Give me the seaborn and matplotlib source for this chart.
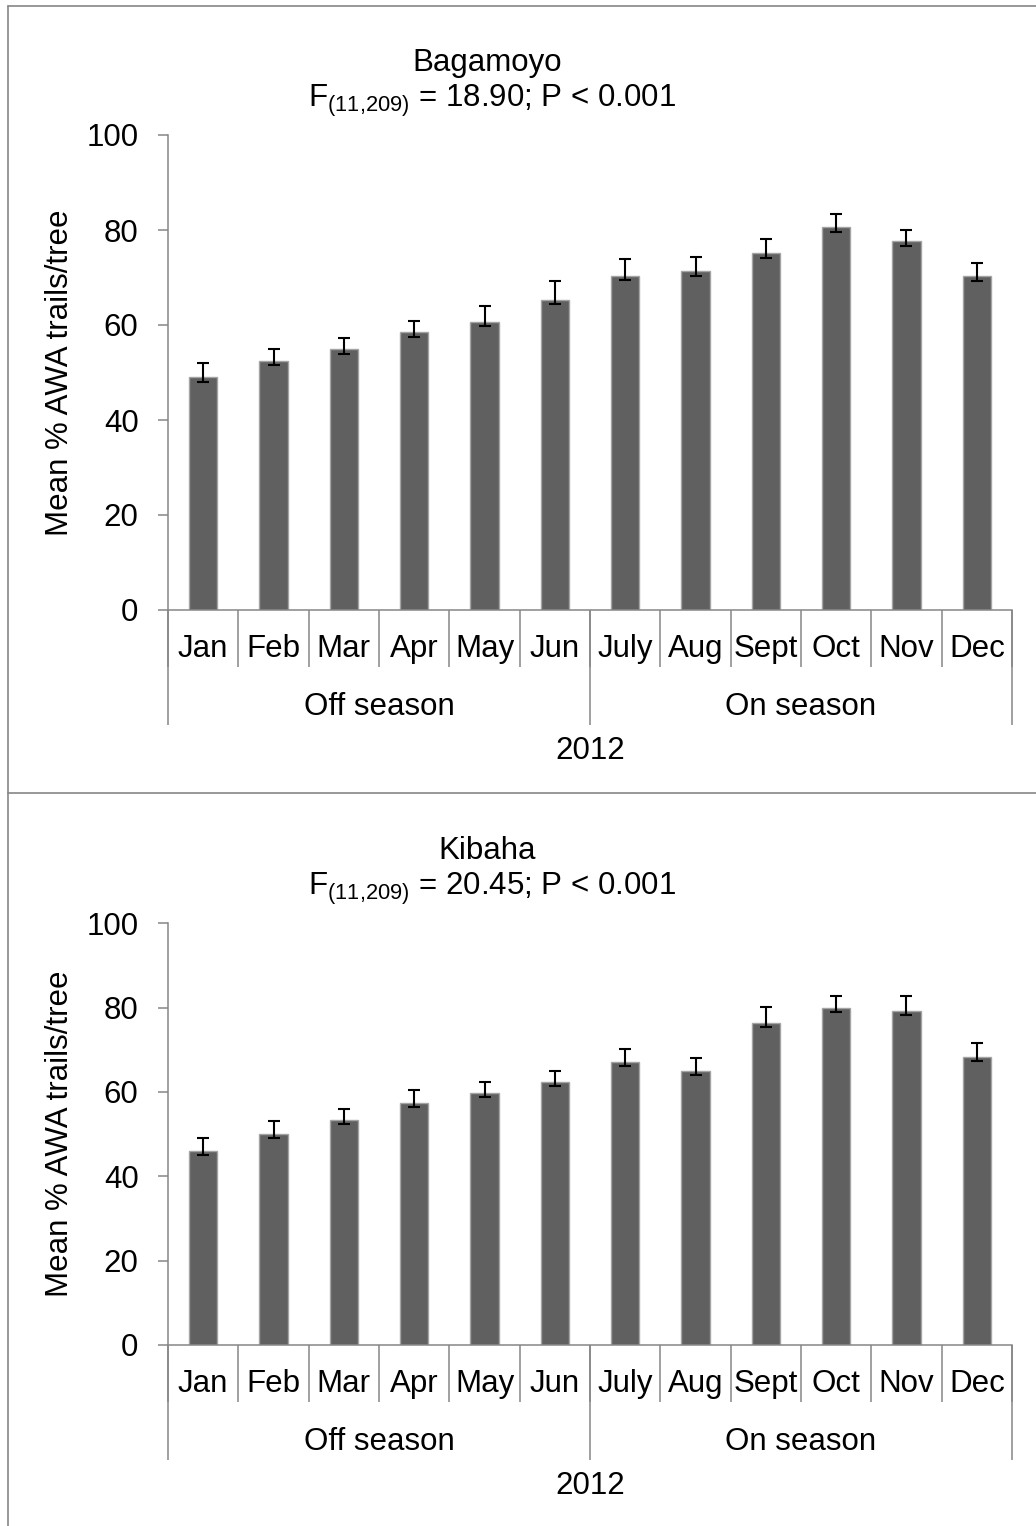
import numpy as np
import pandas as pd
import matplotlib
matplotlib.use("Agg")
import matplotlib.pyplot as plt
from matplotlib.lines import Line2D
import seaborn as sns

# ---------------- data ----------------
months = ["Jan", "Feb", "Mar", "Apr", "May", "Jun",
          "July", "Aug", "Sept", "Oct", "Nov", "Dec"]
season_labels = ["Off season", "On season"]
year_label = "2012"
y_ticks = [0, 20, 40, 60, 80, 100]
y_label = "Mean % AWA trails/tree"

site_names = ["Bagamoyo", "Kibaha"]
site_stats = [r"F$_{\mathrm{(11{,}209)}}$ = 18.90; P < 0.001",
              r"F$_{\mathrm{(11{,}209)}}$ = 20.45; P < 0.001"]

bagamoyo_mean = [49.1, 52.5, 54.9, 58.5, 60.7, 65.3, 70.4, 71.4, 75.2, 80.6, 77.6, 70.3]
bagamoyo_err_plus = [2.8, 2.4, 2.3, 2.4, 3.4, 4.0, 3.4, 2.9, 2.8, 2.8, 2.5, 2.8]
bagamoyo_err_minus = [1.0, 0.9, 1.0, 1.0, 0.9, 0.9, 1.0, 1.0, 1.0, 1.0, 1.0, 1.1]

kibaha_mean = [46.0, 50.0, 53.3, 57.5, 59.8, 62.4, 67.1, 65.0, 76.3, 80.0, 79.1, 68.4]
kibaha_err_plus = [3.2, 3.0, 2.7, 3.0, 2.6, 2.6, 3.1, 3.0, 3.9, 2.8, 3.6, 3.3]
kibaha_err_minus = [0.9, 1.0, 1.0, 1.0, 0.9, 0.9, 0.9, 1.0, 1.0, 1.0, 0.9, 1.1]

# ---------------- style ----------------
sns.set_style("white")
plt.rcParams["font.family"] = ["Liberation Sans", "DejaVu Sans"]
plt.rcParams["mathtext.fontset"] = "custom"
plt.rcParams["mathtext.rm"] = "Liberation Sans"
plt.rcParams["mathtext.it"] = "Liberation Sans:italic"
plt.rcParams["mathtext.bf"] = "Liberation Sans:bold"
plt.rcParams["text.color"] = "black"
plt.rcParams["axes.labelcolor"] = "black"
plt.rcParams["xtick.labelcolor"] = "black"
plt.rcParams["ytick.labelcolor"] = "black"

W, H = 1036, 1526
FS = 22.5
AXC = "#868686"
BAR = "#606060"

fig = plt.figure(figsize=(W / 100, H / 100), dpi=100)
fig.patch.set_facecolor("white")


def px_rect(left, top, right, bottom):
    return [left / W, 1 - bottom / H, (right - left) / W, (bottom - top) / H]


panels = [
    dict(name=site_names[0], stat=site_stats[0], mean=bagamoyo_mean,
         ep=bagamoyo_err_plus, em=bagamoyo_err_minus,
         rect=(168, 135, 1012, 610), off=0),
    dict(name=site_names[1], stat=site_stats[1], mean=kibaha_mean,
         ep=kibaha_err_plus, em=kibaha_err_minus,
         rect=(168, 923.3, 1012, 1345), off=788),
]

for p in panels:
    ax = fig.add_axes(px_rect(*p["rect"]))
    ax_h = p["rect"][3] - p["rect"][1]
    df = pd.DataFrame({"month": months, "mean": p["mean"]})
    sns.barplot(data=df, x="month", y="mean", order=months, color=BAR,
                saturation=1, width=0.4, edgecolor="#a4a4a4", linewidth=1.0,
                errorbar=None, ax=ax, zorder=2)
    ax.errorbar(np.arange(len(months)), p["mean"], yerr=[p["em"], p["ep"]],
                fmt="none", ecolor="black", elinewidth=1.5, capsize=4.2,
                capthick=1.5, zorder=3)

    ax.set_xlim(-0.5, len(months) - 0.5)
    ax.set_ylim(0, 100)
    ax.set_yticks(y_ticks)
    ax.set_xlabel("")
    ax.set_ylabel(y_label, fontsize=FS, va="center")
    ax.yaxis.set_label_coords((60 - 168) / 844, 0.5)

    for s in ["top", "right"]:
        ax.spines[s].set_visible(False)
    for s in ["left", "bottom"]:
        ax.spines[s].set_color(AXC)
        ax.spines[s].set_linewidth(1.1)

    ax.tick_params(axis="y", which="major", left=True, direction="out",
                   length=7.2, width=1.1, color=AXC, pad=14, labelsize=FS,
                   labelcolor="black")
    ax.tick_params(axis="x", which="major", bottom=False, length=0,
                   pad=17, labelsize=FS, labelcolor="black")
    ax.set_xticks(np.arange(-0.5, len(months), 1), minor=True)
    ax.tick_params(axis="x", which="minor", bottom=True, direction="out",
                   length=57 * 0.72, width=1.1, color=AXC)

    tr = ax.get_xaxis_transform()
    for xs in [-0.5, 5.5, 11.5]:
        ax.plot([xs, xs], [0, -115 / ax_h], transform=tr, clip_on=False,
                color=AXC, lw=1.1, solid_capstyle="butt")
    ax.text(2.5, -97 / ax_h, season_labels[0], transform=tr,
            ha="center", va="center", fontsize=FS)
    ax.text(8.5, -97 / ax_h, season_labels[1], transform=tr,
            ha="center", va="center", fontsize=FS)
    ax.text(5.5, -141 / ax_h, year_label, transform=tr,
            ha="center", va="center", fontsize=FS)

    fig.text(487 / W, 1 - (71 + p["off"]) / H, p["name"], ha="center",
             va="baseline", fontsize=FS)
    fig.text(492 / W, 1 - (107 + p["off"]) / H, p["stat"], ha="center",
             va="baseline", fontsize=FS)

# chart-area borders
bl = dict(transform=fig.transFigure, color=AXC, lw=1.2)
fig.add_artist(Line2D([8 / W, 1], [1 - 6 / H, 1 - 6 / H], **bl))
fig.add_artist(Line2D([8 / W, 8 / W], [0, 1 - 6 / H], **bl))
fig.add_artist(Line2D([8 / W, 1], [1 - 793 / H, 1 - 793 / H], **bl))

fig.savefig("out.png", dpi=100)
